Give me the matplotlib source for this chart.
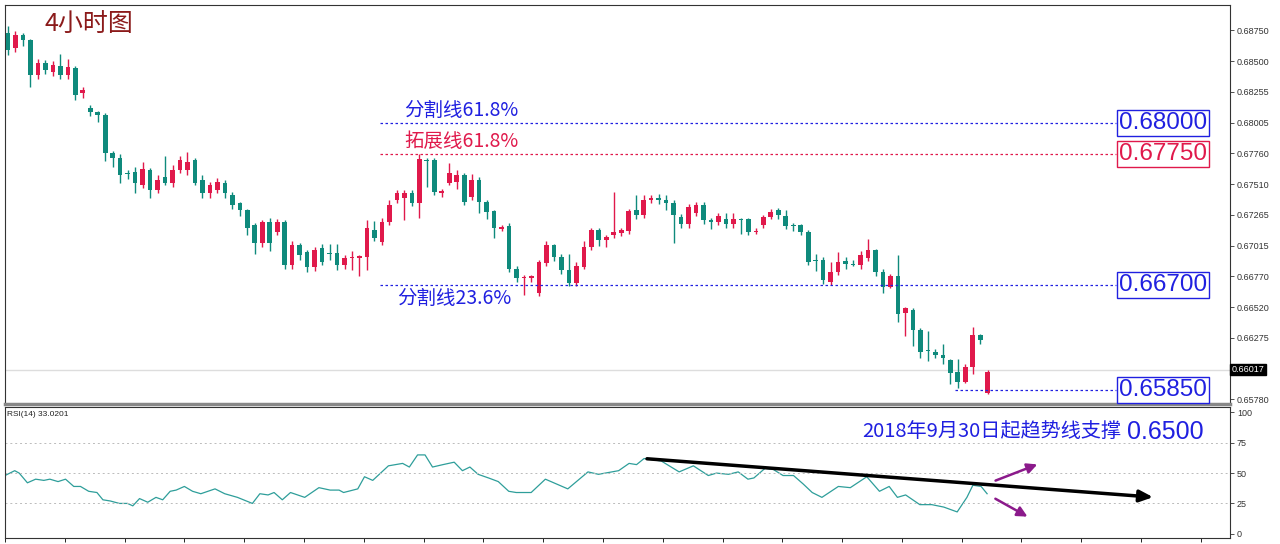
import matplotlib
matplotlib.use("Agg")
import matplotlib.pyplot as plt

plt.rcParams['font.family'] = ['Liberation Sans', 'Noto Sans CJK SC', 'DejaVu Sans']

opens = [0.68724,0.68604,0.68708,0.68668,0.68386,0.68483,0.68410,0.68459,0.68386,0.68443,
0.68241,0.68121,0.68088,0.68064,0.67758,0.67718,0.67597,0.67605,0.67501,0.67622,
0.67461,0.67565,0.67517,0.67622,0.67622,0.67702,0.67541,0.67436,0.67461,0.67517,
0.67420,0.67356,0.67300,0.67179,0.67034,0.67203,0.67122,0.67203,0.66857,0.67018,
0.66961,0.66841,0.66994,0.66953,0.66953,0.66857,0.66913,0.66913,0.66921,0.67139,
0.67042,0.67203,0.67380,0.67396,0.67436,0.67356,0.67702,0.67702,0.67436,0.67517,
0.67525,0.67581,0.67404,0.67541,0.67364,0.67291,0.67147,0.67171,0.66825,0.66752,
0.66752,0.66631,0.66873,0.67018,0.66921,0.66817,0.66712,0.66841,0.67002,0.67139,
0.67058,0.67098,0.67114,0.67131,0.67300,0.67259,0.67380,0.67396,0.67380,0.67356,
0.67243,0.67187,0.67275,0.67340,0.67219,0.67203,0.67227,0.67187,0.67227,0.67227,
0.67122,0.67179,0.67243,0.67300,0.67251,0.67179,0.67179,0.67122,0.66897,0.66897,
0.66720,0.66800,0.66889,0.66865,0.66857,0.66913,0.66978,0.66800,0.66679,0.66768,
0.66470,0.66495,0.66334,0.66172,0.66156,0.66132,0.66092,0.65995,0.65915,0.66036,
0.66293,0.65995]
closes = [0.68587,0.68708,0.68668,0.68386,0.68483,0.68426,0.68467,0.68386,0.68451,0.68225,
0.68266,0.68088,0.68064,0.67758,0.67718,0.67581,0.67589,0.67517,0.67630,0.67461,
0.67541,0.67517,0.67622,0.67702,0.67686,0.67517,0.67436,0.67501,0.67525,0.67436,
0.67340,0.67300,0.67155,0.67034,0.67203,0.67034,0.67203,0.66857,0.67018,0.66937,
0.66841,0.66978,0.66881,0.66945,0.66857,0.66913,0.66921,0.66929,0.67155,0.67074,
0.67203,0.67340,0.67436,0.67436,0.67356,0.67710,0.67694,0.67444,0.67452,0.67597,
0.67581,0.67364,0.67541,0.67364,0.67283,0.67155,0.67163,0.66825,0.66752,0.66760,
0.66768,0.66881,0.67018,0.66921,0.66817,0.66712,0.66849,0.67002,0.67139,0.67058,
0.67082,0.67122,0.67139,0.67291,0.67259,0.67380,0.67396,0.67380,0.67356,0.67259,
0.67187,0.67324,0.67340,0.67219,0.67203,0.67251,0.67187,0.67227,0.67219,0.67122,
0.67130,0.67243,0.67283,0.67259,0.67171,0.67171,0.67122,0.66881,0.66889,0.66736,
0.66800,0.66881,0.66865,0.66857,0.66937,0.66978,0.66800,0.66679,0.66768,0.66462,
0.66511,0.66334,0.66156,0.66164,0.66132,0.66108,0.65987,0.65915,0.66036,0.66293,
0.66253,0.65826]
highs = [0.6878,0.6874,0.6873,0.6868,0.6852,0.6851,0.6850,0.6856,0.6852,0.6846,
0.6829,0.6815,0.6810,0.6808,0.6778,0.6775,0.6762,0.6765,0.6769,0.6764,
0.6758,0.6774,0.6766,0.6774,0.6777,0.6772,0.6758,0.6753,0.6756,0.6754,
0.6745,0.6737,0.6731,0.6720,0.6722,0.6724,0.6723,0.6722,0.6705,0.6704,
0.6698,0.6700,0.6703,0.6703,0.6703,0.6694,0.6697,0.6694,0.6722,0.6721,
0.6724,0.6738,0.6746,0.6746,0.6746,0.6775,0.6772,0.6772,0.6747,0.6768,
0.6762,0.6760,0.6759,0.6757,0.6738,0.6730,0.6718,0.6720,0.6685,0.6678,
0.6678,0.6690,0.6705,0.6703,0.6695,0.6695,0.6688,0.6705,0.6716,0.6716,
0.6710,0.6745,0.6716,0.6731,0.6742,0.6742,0.6742,0.6743,0.6742,0.6738,
0.6727,0.6735,0.6737,0.6737,0.6724,0.6728,0.6728,0.6728,0.6724,0.6724,
0.6716,0.6726,0.6731,0.6732,0.6730,0.6720,0.6719,0.6714,0.6695,0.6692,
0.6688,0.6696,0.6692,0.6690,0.6697,0.6707,0.6699,0.6683,0.6679,0.6694,
0.6652,0.6651,0.6635,0.6633,0.6618,0.6622,0.6610,0.6610,0.6606,0.6636,
0.6630,0.6601]
lows = [0.6855,0.6857,0.6862,0.6829,0.6836,0.6840,0.6838,0.6836,0.6836,0.6819,
0.6820,0.6806,0.6801,0.6770,0.6765,0.6752,0.6755,0.6744,0.6748,0.6740,
0.6744,0.6750,0.6749,0.6760,0.6758,0.6750,0.6740,0.6740,0.6744,0.6740,
0.6731,0.6725,0.6710,0.6695,0.6700,0.6697,0.6710,0.6683,0.6683,0.6690,
0.6680,0.6681,0.6686,0.6690,0.6682,0.6683,0.6682,0.6677,0.6682,0.6705,
0.6702,0.6718,0.6736,0.6722,0.6733,0.6724,0.6749,0.6742,0.6741,0.6750,
0.6747,0.6734,0.6738,0.6728,0.6723,0.6708,0.6713,0.6680,0.6672,0.6662,
0.6672,0.6661,0.6685,0.6689,0.6679,0.6669,0.6669,0.6683,0.6698,0.6701,
0.6700,0.6708,0.6709,0.6711,0.6723,0.6724,0.6736,0.6735,0.6730,0.6704,
0.6716,0.6716,0.6725,0.6719,0.6715,0.6718,0.6716,0.6716,0.6711,0.6710,
0.6711,0.6716,0.6723,0.6723,0.6715,0.6713,0.6710,0.6686,0.6681,0.6671,
0.6670,0.6678,0.6683,0.6685,0.6683,0.6689,0.6677,0.6663,0.6667,0.6640,
0.6629,0.6621,0.6611,0.6609,0.6611,0.6606,0.6590,0.6587,0.6591,0.6598,
0.6622,0.6582]

rsi_idx = [-0.5,0.8,1.4,2.5,3.6,4.7,5.5,6.6,7.6,8.7,9.6,10.7,11.8,12.6,13.6,14.8,15.9,16.6,17.5,18.6,
19.7,20.6,21.6,22.4,23.5,24.6,25.7,27.6,28.9,30.6,32.6,33.6,34.7,35.5,36.6,37.7,39.6,41.5,43,44.2,
44.8,46.7,47.6,48.7,50.8,52.7,53.6,54.7,55.7,56.7,58.1,59.6,60.7,61.7,62.8,64.2,65.5,66.9,67.9,69.9,
71.8,74.8,77.5,78.9,81.6,83,84,85,87.3,89.7,91.6,93.6,94.7,96.3,97.6,98.9,99.7,101.2,102.3,103.6,
105,106.3,107.5,108.8,111,112.6,114.8,116.5,117.8,118.9,120,121.9,123.5,125.1,126.9,128.2,129,130.1,130.9]
rsi_val = [48,52,50,42,45,44,45,43,45,39,39,35,34,28,27,25,25,23,29,26,
30,28,35,36,39,35,33,37,33,30,25,33,32,34,28,34,30,38,36,36,
34,37,47,44,56,58,55,65,65,55,57,59,52,55,49,46,43,35,34,34,
45,37,51,49,52,58,57,62,60,51,56,48,50,49,51,45,46,54,53,48,
48,41,34,30,39,38,47,35,39,30,32,24,24,22,18,30,40,39,33]

levels = [0.68000, 0.67750, 0.66700, 0.65850]
level_texts = ["0.68000", "0.67750", "0.66700", "0.65850"]
fib_labels = ["分割线61.8%", "拓展线61.8%", "分割线23.6%"]
price_ticks = [0.68750,0.68500,0.68255,0.68005,0.67760,0.67510,0.67265,0.67015,0.66770,0.66520,0.66275,0.65780]
last_price = 0.66017
rsi_ticks = [0, 25, 50, 75, 100]

UP = '#E0194B'
DN = '#0F8A7C'
BLUE = '#2020E0'
CJK = ['Noto Sans CJK SC', 'DejaVu Sans']

W, H = 1280, 544
fig = plt.figure(figsize=(12.8, 5.44), dpi=100)
fig.patch.set_facecolor('white')

def px_idx(x):
    return (x - 8) / 7.48

ax = fig.add_axes([5/W, (H-404)/H, 1225/W, 399/H])
ax2 = fig.add_axes([5/W, 6/H, 1225/W, 131/H])
for a in (ax, ax2):
    a.set_xlim(-0.4, 163.4)
    for s in a.spines.values():
        s.set_color('#333333'); s.set_linewidth(0.8)
    a.yaxis.tick_right()
    a.tick_params(axis='y', labelsize=6.5, length=3, width=0.6, pad=2, colors='#333333')
ax.set_ylim(0.65740, 0.68952)
ax.spines['bottom'].set_linewidth(2.5); ax.spines['bottom'].set_color('#888888')

for i, (o, c, h, l) in enumerate(zip(opens, closes, highs, lows)):
    col = UP if c > o else DN
    if i == len(opens) - 1:
        col = UP
    ax.vlines(i, l, h, color=col, lw=1, zorder=2)
    lo, hi = min(o, c), max(o, c)
    ax.bar(i, max(hi - lo, 0.00004), bottom=lo, width=0.62, color=col, zorder=3)

ax.set_yticks(price_ticks)
ax.set_yticklabels([f"{v:.5f}" for v in price_ticks])
ax.set_xticks([])
ax.axhline(last_price, color='#dddddd', lw=1, zorder=1)
ax.text(1.0015, last_price, f"{last_price:.5f}", transform=ax.get_yaxis_transform(),
        fontsize=6.5, color='white', va='center', ha='left',
        bbox=dict(boxstyle='square,pad=0.15', fc='black', ec='black'))

x0, x1 = px_idx(380), px_idx(1116)
colors_l = [BLUE, UP, BLUE, BLUE]
starts = [x0, x0, x0, px_idx(955)]
for lv, col, st in zip(levels, colors_l, starts):
    ax.hlines(lv, st, x1, colors=col, linestyles=(0, (2, 2)), lw=0.9, zorder=4)
for lv, t, col in zip(levels, level_texts, colors_l):
    ax.text(px_idx(1119), lv, t, color=col, fontsize=17.5, va='center', ha='left',
            bbox=dict(boxstyle='square,pad=0.08', fc='white', ec=col, lw=1), zorder=5)
ax.text(px_idx(404), levels[0] + 0.00016, fib_labels[0], color=BLUE, fontsize=14, va='bottom', family=CJK)
ax.text(px_idx(404), levels[1] + 0.00016, fib_labels[1], color=UP, fontsize=14, va='bottom', family=CJK)
ax.text(px_idx(397), levels[2] - 0.00022, fib_labels[2], color=BLUE, fontsize=14, va='top', family=CJK)
ax.text(px_idx(45), 0.68791, "4小时图", color='#8B1A1A', fontsize=18, va='center', family=CJK)

# RSI panel
ax2.set_ylim(-3.5, 104.5)
ax2.plot(rsi_idx, rsi_val, color='#2E9E9A', lw=0.9)
for v in (25, 50, 75):
    ax2.axhline(v, color='#bbbbbb', lw=0.7, ls=(0, (2, 3)))
ax2.set_yticks(rsi_ticks)
ax2.set_yticklabels([str(v) for v in rsi_ticks])
ax2.set_xticks([-0.5 + 8 * k for k in range(21)])
ax2.set_xticklabels([])
ax2.tick_params(axis='x', length=3, width=0.6, direction='out')
ax2.text(0.002, 0.97, "RSI(14) 33.0201", transform=ax2.transAxes, fontsize=6, va='top', color='#222222')
ax2.annotate("", xy=(px_idx(1156), 30), xytext=(px_idx(644), 62),
             arrowprops=dict(arrowstyle='-|>,head_length=0.8,head_width=0.35', color='black', lw=2.5))
ax2.annotate("", xy=(px_idx(1040), 58), xytext=(px_idx(993), 43),
             arrowprops=dict(arrowstyle='-|>,head_length=0.6,head_width=0.3', color='#8B1A8B', lw=1.8))
ax2.annotate("", xy=(px_idx(1030), 13), xytext=(px_idx(993), 30),
             arrowprops=dict(arrowstyle='-|>,head_length=0.6,head_width=0.3', color='#8B1A8B', lw=1.8))
ax2.text(px_idx(862), 84, "2018年9月30日起趋势线支撑", color=BLUE, fontsize=14.5, va='center', family=CJK)
ax2.text(px_idx(1127), 84, "0.6500", color=BLUE, fontsize=18, va='center')

fig.savefig("out.png", dpi=100)
